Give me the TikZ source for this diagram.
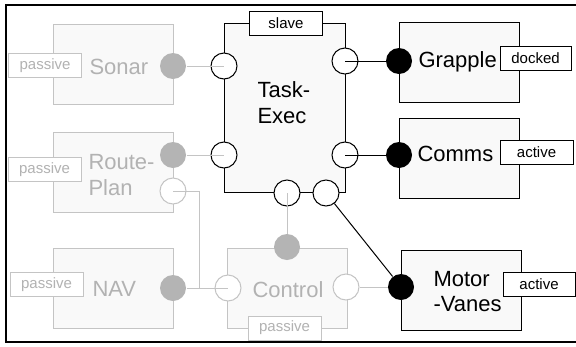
\documentclass[tikz,border=0pt]{standalone}
\usepackage{fontspec}
\setmainfont{Liberation Sans}
\definecolor{ghost}{RGB}{196,196,196}
\definecolor{ghosttext}{RGB}{178,178,178}
\definecolor{ghostdot}{RGB}{180,180,180}
\definecolor{boxfill}{RGB}{249,249,249}
\begin{document}
\begin{tikzpicture}[x=1pt, y=-1pt, line width=1pt,
    comp/.style = {draw, fill=boxfill, minimum width=120pt, minimum height=80pt, inner sep=0pt},
    tag/.style = {draw, fill=white, minimum width=73pt, minimum height=24pt, inner sep=0pt, font=\fontsize{15}{17}\selectfont},
    big/.style = {align=left, anchor=base west, inner sep=0pt, font=\fontsize{22}{26}\selectfont},
    sock/.style = {draw, fill=white, circle, minimum size=26pt, inner sep=0pt},
    plug/.style = {circle, minimum size=26pt, inner sep=0pt},
    faded/.style = {draw=ghost, text=ghosttext}]
    \useasboundingbox (0,0) rectangle (576,346);
    \draw[line width=2.6pt] (6,5) rectangle (582,342);

    % components
    \node[comp, minimum width=121pt, minimum height=169pt] (exec) at (284.5,107.5) {};
    \node[comp, faded] (sonar) at (113,64) {};
    \node[comp, faded] (route) at (113,172) {};
    \node[comp, faded] (nav) at (113.5,288) {};
    \node[comp, faded] (ctl) at (287.5,288.5) {};
    \node[comp] (grapple) at (459.5,62.5) {};
    \node[comp] (comms) at (459.5,158) {};
    \node[comp] (motor) at (461,290) {};

    % multi-line texts sit on their last baseline
    \node[big] (execT) at (257,123) {Task-\\Exec};
    \node[big, text=ghosttext] (sonarT) at (89,74) {Sonar};
    \node[big, text=ghosttext] (routeT) at (88,195) {Route-\\Plan};
    \node[big, text=ghosttext] (navT) at (92,296) {NAV};
    \node[big, text=ghosttext] (ctlT) at (252,297) {Control};
    \node[big] (grappleT) at (418,67) {Grapple};
    \node[big] (commsT) at (417,161) {Comms};
    \node[big, font=\fontsize{22}{25}\selectfont] (motorT) at (433,311) {Motor\\-Vanes};

    % tags
    \node[tag] (slave) at (286,23) {slave};
    \node[tag, faded] (sonarS) at (45,65.5) {passive};
    \node[tag, faded] (routeS) at (44.5,169.5) {passive};
    \node[tag, faded] (navS) at (46.5,284.5) {passive};
    \node[tag, faded] (ctlS) at (284.5,328) {passive};
    \node[tag, minimum width=71pt] (grappleS) at (535.5,58.5) {docked};
    \node[tag] (commsS) at (536.5,152.5) {active};
    \node[tag, minimum width=72pt] (motorS) at (539,284.5) {active};

    % ports
    \node[sock] (execL1) at (224,66) {};
    \node[sock] (execL2) at (224,155) {};
    \node[sock] (execR1) at (345,61) {};
    \node[sock] (execR2) at (345,155) {};
    \node[sock] (execB1) at (287,193) {};
    \node[sock] (execB2) at (326,193) {};
    \node[plug, fill=ghostdot] (sonarP) at (173,66) {};
    \node[plug, fill=ghostdot] (routeP) at (173,155) {};
    \node[sock, draw=ghost] (routeQ) at (173,191) {};
    \node[plug, fill=ghostdot] (navP) at (173,288) {};
    \node[sock, draw=ghost] (ctlL) at (228,288) {};
    \node[sock, draw=ghost] (ctlR) at (346,287) {};
    \node[plug, fill=ghostdot] (ctlP) at (287,247) {};
    \node[plug, fill=black] (grappleP) at (399,61) {};
    \node[plug, fill=black] (commsP) at (399,155) {};
    \node[plug, fill=black] (motorP) at (401,287) {};
    \coordinate (bend) at (199,288);

    % links
    \draw[ghost] (sonarP) -- (execL1.center);
    \draw[ghost] (routeP) -- (execL2.center);
    \draw[ghost] (execB1.center) -- (ctlP);
    \draw[ghost] (navP) -- (ctlL.center);
    \draw[ghost] (routeQ.center) -| (bend);
    \draw[ghost] (ctlR) -- (motorP);
    \draw (grappleP) -- (execR1.center);
    \draw (commsP) -- (execR2.center);
    \draw (execB2) -- (motorP);
\end{tikzpicture}
\end{document}
